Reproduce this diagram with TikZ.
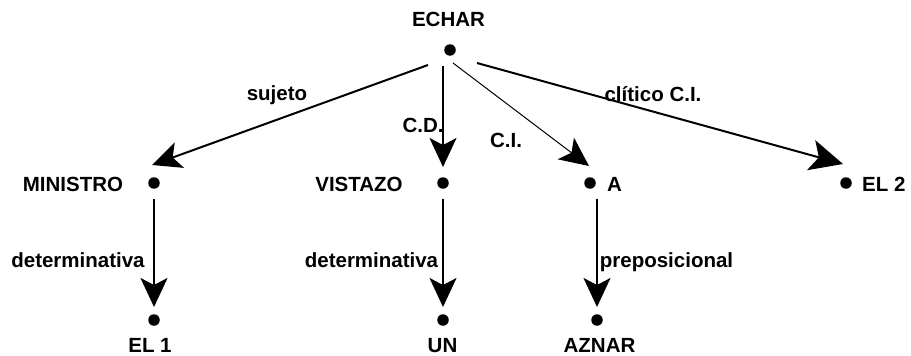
\documentclass[tikz,border=0pt]{standalone}
\usepackage{fontspec}
\setmainfont{Liberation Sans}
\usetikzlibrary{arrows.meta,calc}

\begin{document}
\begin{tikzpicture}[x=1pt,y=-1pt,
  dot/.style={circle, fill=black, inner sep=0pt, minimum size=11.5pt},
  word/.style={font=\bfseries\fontsize{20.5}{24}\selectfont, inner sep=0pt, anchor=base},
  head/.style={-{Stealth[length=29pt,width=27pt,inset=7pt]}},
  bighead/.style={-{Stealth[length=33pt,width=31pt,inset=8pt]}},
  link/.style={line width=2pt, line join=miter, head},
  thinlink/.style={line width=1pt, line join=miter, head}]

  \useasboundingbox (0,0) rectangle (911,356);

  % word positions (dots)
  \node[dot] (echar)    at (450,50)  {};
  \node[dot] (ministro) at (154,183) {};
  \node[dot] (vistazo)  at (443,183) {};
  \node[dot] (a)        at (590,183) {};
  \node[dot] (el2)      at (846,183) {};
  \node[dot] (el1)      at (154,320) {};
  \node[dot] (un)       at (443,320) {};
  \node[dot] (aznar)    at (597,320) {};

  % word labels
  \node[word] (t-echar)    at (448.5,26) {ECHAR};
  \node[word] (t-ministro) at (73,191)   {MINISTRO};
  \node[word] (t-vistazo)  at (359,191)  {VISTAZO};
  \node[word, anchor=base west] (t-a)   at (607,191) {A};
  \node[word, anchor=base west] (t-el2) at (862,191) {EL 2};
  \node[word] (t-el1)      at (150,352)  {EL 1};
  \node[word] (t-un)       at (442.5,352) {UN};
  \node[word] (t-aznar)    at (599.5,352) {AZNAR};

  % dependency arcs
  \draw[link] ($(echar)+(-22,15)$) -- ($(ministro)+(-2,-18)$);
  \draw[link] ($(vistazo |- echar)+(0,16)$) -- ($(vistazo)+(0,-16)$);
  \draw[thinlink] ($(echar)+(3,13)$) -- ($(a)+(-1,-17)$);
  \draw[line width=2pt, line join=miter, bighead] ($(echar)+(27,13)$) -- ($(el2)+(-3,-19)$);
  \draw[link] ($(el1 |- ministro)+(0,16)$) -- ($(el1)+(0,-13)$);
  \draw[link] ($(un |- vistazo)+(0,16)$) -- ($(un)+(0,-13)$);
  \draw[link] ($(aznar |- a)+(0,16)$) -- ($(aznar)+(0,-13)$);

  % arc labels
  \node[word] (l-sujeto)  at (277,100)   {sujeto};
  \node[word] (l-cd)      at (423,132)   {C.D.};
  \node[word] (l-ci)      at (506,147)   {C.I.};
  \node[word] (l-clitico) at (653,101)   {clítico C.I.};
  \node[word] (l-det1)    at (78,267)    {determinativa};
  \node[word] (l-det2)    at (371.5,267) {determinativa};
  \node[word] (l-prep)    at (666.5,267) {preposicional};
\end{tikzpicture}
\end{document}
